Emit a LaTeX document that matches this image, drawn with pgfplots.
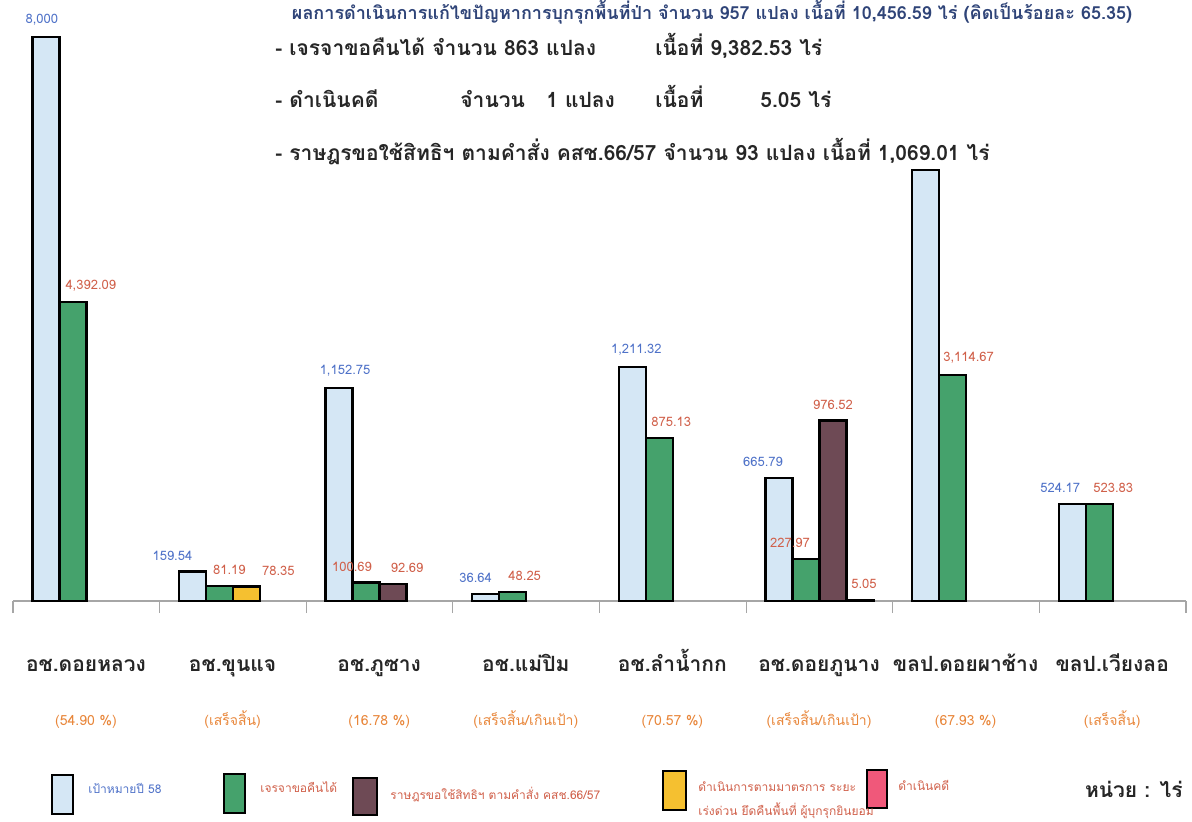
\documentclass[border=0pt]{standalone}
\usepackage{pgfplots}
\pgfplotsset{compat=1.18}
\usepackage{pgfplotstable}
\usepackage{fontspec}
\setmainfont{Loma}[Script=Thai]
\definecolor{cblue}{HTML}{D5E7F5}
\definecolor{cgreen}{HTML}{45A26C}
\definecolor{cmaroon}{HTML}{6E4A55}
\definecolor{cyellow}{HTML}{F5C030}
\definecolor{cpink}{HTML}{F0587A}
\definecolor{lblblue}{HTML}{4F72C8}
\definecolor{lblred}{HTML}{D0604A}
\definecolor{orng}{HTML}{E8863A}

\pgfplotstableread{
x y label dx
0 3049 8,000 -2
1 159.54 159.54 -10
2 1152.75 1,152.75 3
3 36.64 36.64 -5
4 1265 1,211.32 2
5 665.79 665.79 -8
6 2330 {} 0
7 524.17 524.17 -6
}\blueT
\pgfplotstableread{
x y label dx
0 1616 4,392.09 9
1 81.19 81.19 5
2 100.69 100.69 -7
3 48.25 48.25 6
4 880 875.13 6
5 227.97 227.97 -8
6 1222 3,114.67 8
7 523.83 523.83 7
}\greenT
\pgfplotstableread{
x y label dx
2 92.69 92.69 7
5 976.52 976.52 0
}\maroonT
\pgfplotstableread{
x y label dx
1 78.35 78.35 16
}\yellowT
\pgfplotstableread{
x y label dx
5 5.05 5.05 2
}\pinkT

\begin{document}
\begin{tikzpicture}[x=0.5pt,y=0.5pt]
\begin{axis}[
  at={(6.5pt,110pt)}, anchor=south west,
  scale only axis, width=586.5pt, height=296pt,
  xmin=-0.5, xmax=7.5, ymin=0, ymax=3200,
  hide y axis, axis x line*=bottom,
  axis line style={gray!70, line width=0.8pt},
  xtick={-0.5,0.5,...,7.5}, xticklabels={},
  major tick length=6pt, tick align=outside,
  tick style={gray!70, line width=0.6pt},
  clip=false,
  ybar, bar width=13.5pt,
  every axis plot/.append style={draw=black, line width=1.2pt},
  point meta=explicit symbolic,
  nodes near coords,
  visualization depends on={\thisrow{dx} \as \dx},
  every node near coord/.append style={font=\fontsize{6.5}{7}\selectfont, inner sep=0pt, anchor=south, yshift=5pt, xshift=\dx pt},
]
\addplot[fill=cblue, bar shift=-20.25pt, every node near coord/.append style={text=lblblue}] table[x=x,y=y,meta=label]{\blueT};
\addplot[fill=cgreen, bar shift=-6.75pt, every node near coord/.append style={text=lblred}] table[x=x,y=y,meta=label]{\greenT};
\addplot[fill=cmaroon, bar shift=6.75pt, every node near coord/.append style={text=lblred}] table[x=x,y=y,meta=label]{\maroonT};
\addplot[fill=cyellow, bar shift=6.75pt, every node near coord/.append style={text=lblred}] table[x=x,y=y,meta=label]{\yellowT};
\addplot[fill=cpink, bar shift=20.25pt, every node near coord/.append style={text=lblred}] table[x=x,y=y,meta=label]{\pinkT};
\end{axis}

% title (top)
\node[anchor=center, inner sep=0pt, text=lblblue!60!black, font=\fontsize{9}{10}\selectfont\bfseries] at (712,809) {ผลการดำเนินการแก้ไขปัญหาการบุกรุกพื้นที่ป่า จำนวน 957 แปลง เนื้อที่ 10,456.59 ไร่ (คิดเป็นร้อยละ 65.35)};

% text block
\begin{scope}[every node/.style={anchor=base west, inner sep=0pt, font=\fontsize{10.5}{12}\selectfont\bfseries, text=black!85}]
\node at (275,765) {- เจรจาขอคืนได้};
\node at (432,765) {จำนวน 863 แปลง};
\node at (655,765) {เนื้อที่ 9,382.53 ไร่};
\node at (275,713) {- ดำเนินคดี};
\node at (460,713) {จำนวน \ \ 1 แปลง};
\node at (655,713) {เนื้อที่};
\node at (760,713) {5.05 ไร่};
\node at (275,661) {- ราษฎรขอใช้สิทธิฯ ตามคำสั่ง คสช.66/57 จำนวน 93 แปลง เนื้อที่ 1,069.01 ไร่};
\end{scope}

% category labels
\begin{scope}[every node/.style={anchor=base, inner sep=0pt}]
\tikzset{cat/.style={font=\fontsize{10.5}{12}\selectfont\bfseries, text=black!85}, sub/.style={font=\fontsize{7}{8}\selectfont, text=orng}}
\node[cat] at (86,150) {อช.ดอยหลวง};
\node[cat] at (232.6,150) {อช.ขุนแจ};
\node[cat] at (379.2,150) {อช.ภูซาง};
\node[cat] at (525.8,150) {อช.แม่ปิม};
\node[cat] at (672.4,150) {อช.ลำน้ำกก};
\node[cat] at (819,150) {อช.ดอยภูนาง};
\node[cat] at (965.6,150) {ขลป.ดอยผาช้าง};
\node[cat] at (1112.2,150) {ขลป.เวียงลอ};
\node[sub] at (86,96) {(54.90 \%)};
\node[sub] at (232.6,96) {(เสร็จสิ้น)};
\node[sub] at (379.2,96) {(16.78 \%)};
\node[sub] at (525.8,96) {(เสร็จสิ้น/เกินเป้า)};
\node[sub] at (672.4,96) {(70.57 \%)};
\node[sub] at (819,96) {(เสร็จสิ้น/เกินเป้า)};
\node[sub] at (965.6,96) {(67.93 \%)};
\node[sub] at (1112.2,96) {(เสร็จสิ้น)};
\end{scope}

% legend
\begin{scope}[line width=1.2pt]
\draw[fill=cblue] (52,7) rectangle (73,46);
\draw[fill=cgreen] (224,8) rectangle (245,47);
\draw[fill=cmaroon] (353,6) rectangle (377,43);
\draw[fill=cyellow] (663,11) rectangle (686,50);
\draw[fill=cpink] (867,13) rectangle (887,51);
\end{scope}
\begin{scope}[every node/.style={anchor=west, inner sep=0pt, font=\fontsize{6}{7}\selectfont}]
\node[text=lblblue] at (88,33) {เป้าหมายปี 58};
\node[text=lblred] at (260,34) {เจรจาขอคืนได้};
\node[text=lblred] at (390,26) {ราษฎรขอใช้สิทธิฯ ตามคำสั่ง คสช.66/57};
\node[text=lblred] at (698,34) {ดำเนินการตามมาตรการ ระยะ};
\node[text=lblred] at (698,10) {เร่งด่วน ยึดคืนพื้นที่ ผู้บุกรุกยินยอม};
\node[text=lblred] at (898,36) {ดำเนินคดี};
\end{scope}
\node[anchor=base east, inner sep=0pt, font=\fontsize{10.5}{12}\selectfont\bfseries, text=black!85] at (1183,24) {หน่วย : ไร่};

\pgfresetboundingbox
\path[use as bounding box] (0,0) rectangle (1192,821);
\end{tikzpicture}
\end{document}
